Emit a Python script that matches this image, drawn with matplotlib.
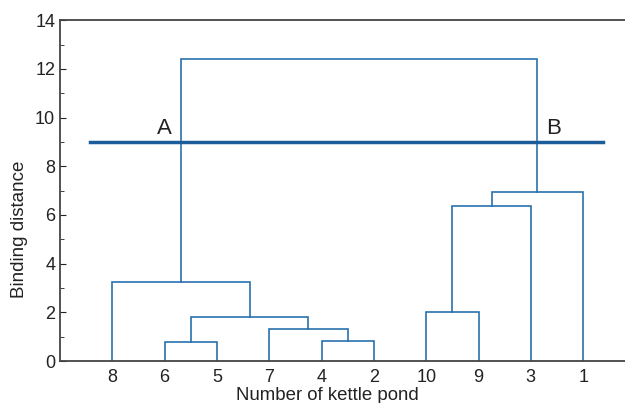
import matplotlib.pyplot as plt
from matplotlib.ticker import MultipleLocator

# leaves in dendrogram order
leaves = ['8', '6', '5', '7', '4', '2', '10', '9', '3', '1']
# merges: (left position, left height, right position, right height, merge height)
merges = [
    (2, 0.0, 3, 0.0, 0.8),      # 6-5
    (5, 0.0, 6, 0.0, 0.82),     # 4-2
    (4, 0.0, 5.5, 0.82, 1.32),  # 7-(4,2)
    (2.5, 0.8, 4.75, 1.32, 1.82),
    (1, 0.0, 3.625, 1.82, 3.25),
    (7, 0.0, 8, 0.0, 2.0),      # 10-9
    (7.5, 2.0, 9, 0.0, 6.35),
    (8.25, 6.35, 10, 0.0, 6.95),
    (2.3125, 3.25, 9.125, 6.95, 12.4),
]
cut_level = 9.0

plt.rcParams['font.family'] = ['Liberation Sans', 'DejaVu Sans']
fig = plt.figure(figsize=(6.25, 4.03), dpi=100)
ax = fig.add_axes([0.096, 0.104, 0.904, 0.846])

line_col = '#2a71ad'
for x1, y1, x2, y2, h in merges:
    ax.plot([x1, x1, x2, x2], [y1, h, h, y2], color=line_col, lw=1.2,
            solid_joinstyle='miter')

ax.plot([0.57, 10.38], [cut_level, cut_level], color='#1c5d99', lw=2.5)
ax.text(2.0, cut_level + 0.12, 'A', fontsize=16, ha='center', va='bottom', color='#222222')
ax.text(9.43, cut_level + 0.12, 'B', fontsize=16, ha='center', va='bottom', color='#222222')

ax.set_xlim(0, 10.8)
ax.set_ylim(0, 14)
ax.set_xticks(range(1, len(leaves) + 1))
ax.set_xticklabels(leaves)
ax.yaxis.set_major_locator(MultipleLocator(2))
ax.yaxis.set_minor_locator(MultipleLocator(1))
ax.tick_params(axis='x', length=0, labelsize=13, pad=6, colors='#222222')
ax.tick_params(axis='y', which='both', direction='in', labelsize=13, colors='#222222')
ax.tick_params(axis='y', which='major', length=4)
ax.tick_params(axis='y', which='minor', length=3)
ax.spines['right'].set_visible(False)
for s in ['left', 'bottom', 'top']:
    ax.spines[s].set_color('#444444')
    ax.spines[s].set_linewidth(1.3)

ax.set_xlabel('Number of kettle pond', fontsize=13.4, labelpad=0, color='#222222')
ax.xaxis.set_label_coords(0.473, -0.075)
ax.set_ylabel('Binding distance', fontsize=13.5, color='#222222')
ax.yaxis.set_label_coords(-0.056, 0.387)

fig.savefig('out.png', dpi=100)
